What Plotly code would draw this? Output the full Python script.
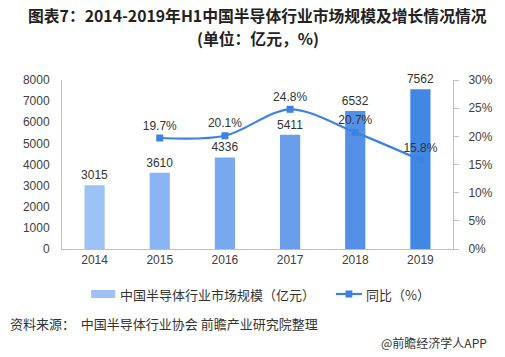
import plotly.graph_objects as go

years = ["2014", "2015", "2016", "2017", "2018", "2019"]
market_size = [3015, 3610, 4336, 5411, 6532, 7562]
yoy_years = ["2015", "2016", "2017", "2018", "2019"]
yoy = [19.7, 20.1, 24.8, 20.7, 15.8]
bar_colors = ["#9DC3F6", "#8AB5F2", "#78A8EE", "#6A9EEB", "#5590E7", "#4287E3"]
left_ticks = [0, 1000, 2000, 3000, 4000, 5000, 6000, 7000, 8000]
right_ticks = [0, 5, 10, 15, 20, 25, 30]

FONT = "Noto Sans CJK SC, Liberation Sans, sans-serif"
LAT = "Liberation Sans, Arial, sans-serif"
LINE_C = "#3D82E0"

# plot-area geometry (pixels) used to place the hand-drawn legend
L, T, W, H = 62, 80, 404, 169


def px(x):
    return (x - L) / W


def py(y):
    return (T + H - y) / H


fig = go.Figure()
fig.add_trace(go.Bar(
    x=years, y=market_size, name="中国半导体行业市场规模（亿元）",
    marker=dict(color=bar_colors, line=dict(width=0)),
    width=0.31,
    text=[str(v) for v in market_size], textposition="outside",
    constraintext="none", textangle=0,
    textfont=dict(size=12, color="#333333", family=LAT),
    cliponaxis=False, showlegend=False,
))
fig.add_trace(go.Scatter(
    x=yoy_years, y=yoy, name="同比（%）", yaxis="y2",
    mode="lines+markers+text",
    line=dict(color=LINE_C, width=2.2, shape="spline", smoothing=0.9),
    marker=dict(symbol="square", size=7, color=LINE_C),
    text=[f"{v}%" for v in yoy], textposition="top center",
    textfont=dict(size=12, color="#333333", family=LAT),
    cliponaxis=False, showlegend=False,
))

fig.update_layout(
    width=505, height=357,
    margin=dict(l=L, r=505 - L - W, t=T, b=357 - T - H),
    paper_bgcolor="white", plot_bgcolor="white",
    font=dict(family=FONT, color="#333333", size=12),
    showlegend=False,
    bargap=0.69,
    xaxis=dict(
        type="category", showline=True, linecolor="#BFBFBF", linewidth=1,
        ticks="", showgrid=False,
        tickfont=dict(size=12, color="#404040", family=LAT),
    ),
    yaxis=dict(
        range=[0, 8000], tickvals=left_ticks, showline=True, linecolor="#BFBFBF",
        linewidth=1, showgrid=False, zeroline=False, ticks="", ticklabelstandoff=9,
        tickfont=dict(size=12, color="#404040", family=LAT),
    ),
    yaxis2=dict(
        range=[0, 30], tickvals=right_ticks, ticktext=[f"{v}%" for v in right_ticks],
        overlaying="y", side="right", showline=True, linecolor="#BFBFBF", linewidth=1,
        showgrid=False, zeroline=False, ticks="outside", ticklen=5, tickcolor="#BFBFBF",
        ticklabelstandoff=7,
        tickfont=dict(size=12, color="#404040", family=LAT),
    ),
)

# title (two lines)
fig.add_annotation(
    text="<b>图表7：2014-2019年H1中国半导体行业市场规模及增长情况情况</b>",
    xref="paper", yref="paper", x=px(264), y=py(15.5), xanchor="center", yanchor="middle",
    showarrow=False, font=dict(size=15.8, color="#222222", family=FONT),
)
fig.add_annotation(
    text="<b>(单位：亿元，%)</b>",
    xref="paper", yref="paper", x=px(264), y=py(38.5), xanchor="center", yanchor="middle",
    showarrow=False, font=dict(size=15.8, color="#222222", family=FONT),
)

# legend (hand-drawn)
fig.add_shape(type="rect", xref="paper", yref="paper",
              x0=px(92), x1=px(117), y0=py(298), y1=py(290),
              fillcolor="#9DC3F6", line=dict(width=0))
fig.add_annotation(text="中国半导体行业市场规模（亿元）", xref="paper", yref="paper",
                   x=px(120), y=py(294), xanchor="left", yanchor="middle", showarrow=False,
                   font=dict(size=13, color="#333333", family=FONT))
fig.add_shape(type="line", xref="paper", yref="paper",
              x0=px(345), x1=px(372), y0=py(294), y1=py(294),
              line=dict(color=LINE_C, width=2.2))
fig.add_shape(type="rect", xref="paper", yref="paper",
              x0=px(355), x1=px(362), y0=py(297.5), y1=py(290.5),
              fillcolor=LINE_C, line=dict(width=0))
fig.add_annotation(text="同比（%）", xref="paper", yref="paper",
                   x=px(374), y=py(294), xanchor="left", yanchor="middle", showarrow=False,
                   font=dict(size=13, color="#333333", family=FONT))

# source + attribution
fig.add_annotation(
    text="资料来源：  中国半导体行业协会 前瞻产业研究院整理",
    xref="paper", yref="paper", x=px(6), y=py(323), xanchor="left", yanchor="middle",
    showarrow=False, font=dict(size=13, color="#333333", family=FONT),
)
fig.add_annotation(
    text="@前瞻经济学人APP",
    xref="paper", yref="paper", x=px(503), y=py(342), xanchor="right", yanchor="middle",
    showarrow=False, font=dict(size=12, color="#333333", family=FONT),
)

fig.write_html("out.html", config={"displayModeBar": False},
               post_script="document.body.style.margin='0px';")
